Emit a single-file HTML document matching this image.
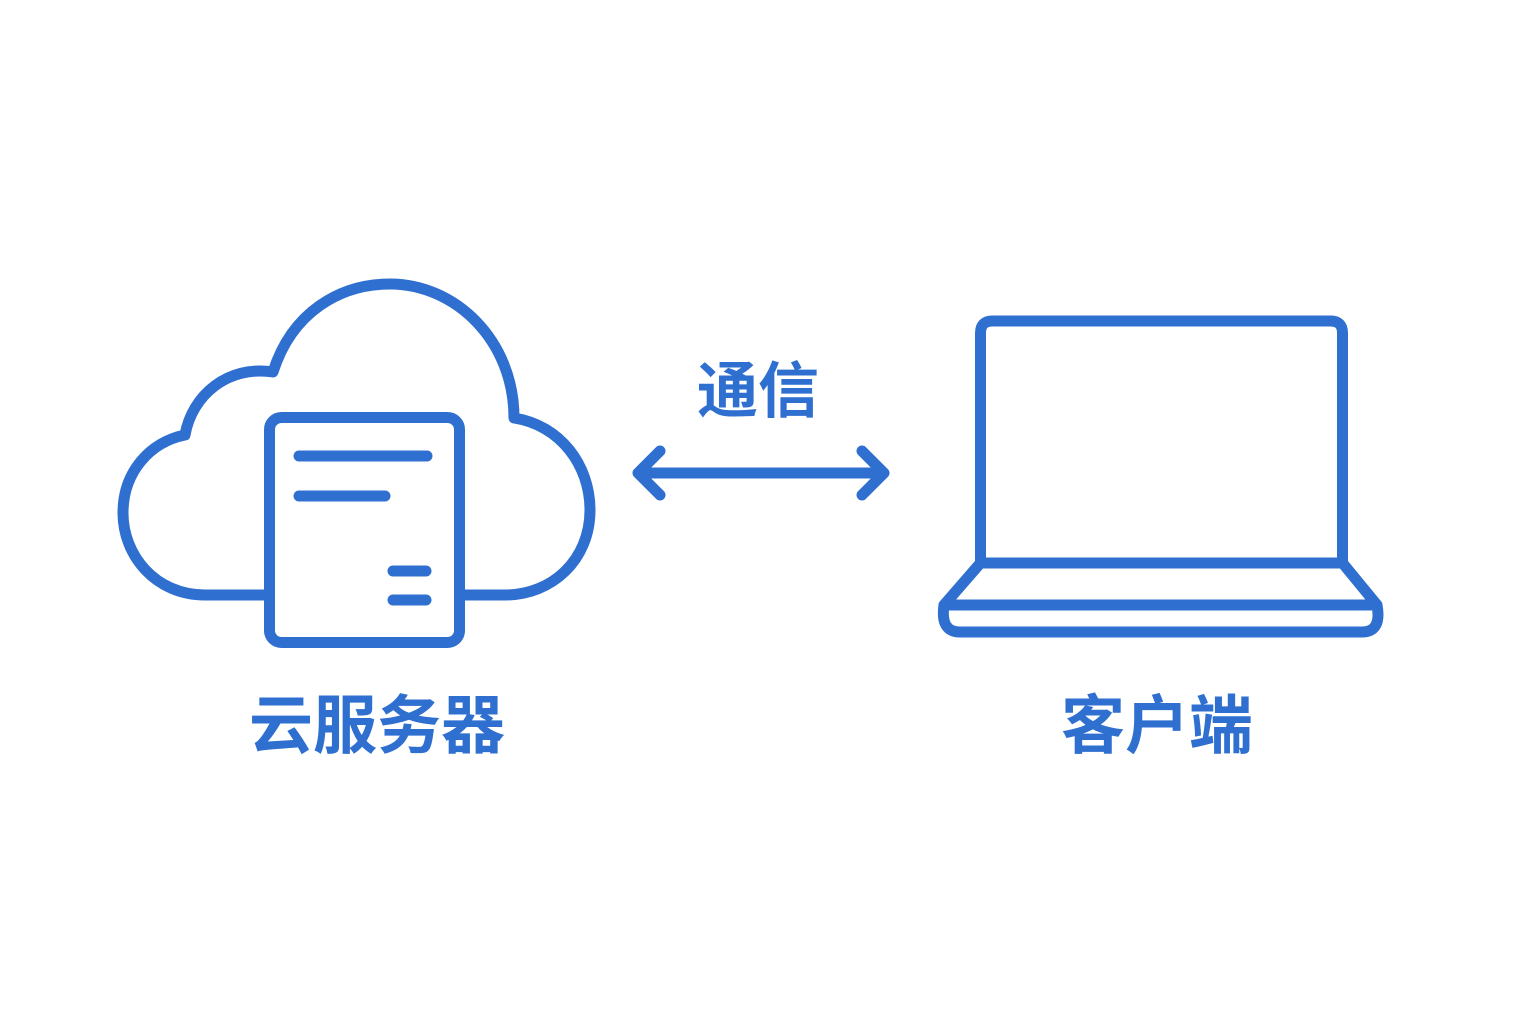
<!DOCTYPE html>
<html><head><meta charset="utf-8"><style>
html,body{margin:0;padding:0;background:#fff;}
svg{display:block}
text{font-family:"Liberation Sans","Noto Sans CJK SC",sans-serif;font-weight:bold;fill:#2f6fd0;text-anchor:middle}
</style></head><body>
<svg width="1536" height="1024" viewBox="0 0 1536 1024" xmlns="http://www.w3.org/2000/svg">
<g fill="none" stroke="#2f6fd0" stroke-width="11" stroke-linecap="round" stroke-linejoin="round">
<path d="M268 595 L205 595 C155 595 123 555 123 513 C123 472 150 442 185 435 C192 395 228 365 273 372 C292 312 340 284 390 284 C455 284 514 340 514 418 C560 425 590 465 590 510 C590 560 552 595 505 595 L462 595"/>
<rect x="269.5" y="417.5" width="190" height="225" rx="12" fill="#fff"/>
<line x1="299" y1="456" x2="427" y2="456"/>
<line x1="299" y1="496" x2="385" y2="496"/>
<line x1="393" y1="571" x2="426" y2="571"/>
<line x1="393" y1="600" x2="426" y2="600"/>
<line x1="640" y1="473" x2="882" y2="473"/>
<polyline points="660,451 638,473 660,495"/>
<polyline points="862,451 884,473 862,495"/>
<path d="M980.5 563 L980.5 333 Q980.5 321 992.5 321 L1330.5 321 Q1342.5 321 1342.5 333 L1342.5 563 Z"/>
<path d="M980.5 563 L944 605 L1377 605 L1342.5 563"/>
<path d="M944 605 Q940 632 960 632 L1362 632 Q1382 632 1377 605"/>
</g>
<text x="758" y="412" font-size="61">通信</text>
<text x="377" y="748" font-size="64">云服务器</text>
<text x="1157" y="748" font-size="64">客户端</text>
</svg>
</body></html>
